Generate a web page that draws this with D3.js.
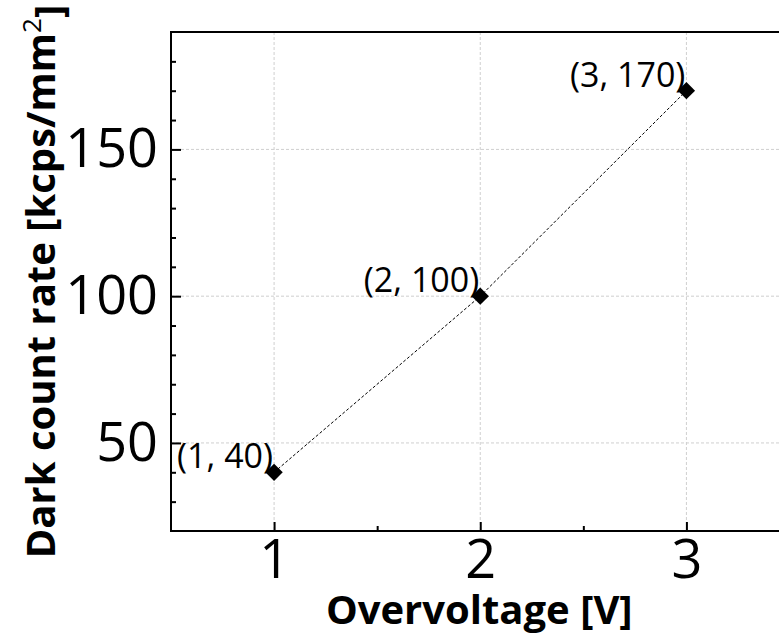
<!DOCTYPE html>
<html>
<head>
<meta charset="utf-8">
<script src="https://cdn.jsdelivr.net/npm/d3@7"></script>
<style>
  body { margin: 0; background: #fff; }
  svg { display: block; }
</style>
</head>
<body>
<svg></svg>
<script>
const WIDTH = 779;
const HEIGHT = 637;

// data
const overvoltage = [1, 2, 3];
const darkCount = [40, 100, 170];
const xTicks = [1, 2, 3];
const xMinor = [1.5, 2.5];
const yTicks = [50, 100, 150];
const yMinor = [30, 40, 60, 70, 80, 90, 110, 120, 130, 140, 160, 170, 180];

const LEFT = 171, RIGHT = 789.5, TOP = 32, BOTTOM = 531;

let svg = d3.select("svg")
    .attr("width", WIDTH)
    .attr("height", HEIGHT)
    .style("font-family", "'Open Sans', 'Noto Sans', sans-serif");

let x = d3.scaleLinear().domain([0.5, 3.5]).range([LEFT, RIGHT]);
let y = d3.scaleLinear().domain([20, 190]).range([BOTTOM, TOP]);

// grid
let grid = svg.append("g")
    .style("stroke", "#cfcfcf")
    .style("stroke-width", 1)
    .style("stroke-dasharray", "3,2");

grid.selectAll(".gx").data(xTicks).enter().append("line")
    .attr("x1", d => x(d)).attr("x2", d => x(d))
    .attr("y1", TOP).attr("y2", BOTTOM);

grid.selectAll(".gy").data(yTicks).enter().append("line")
    .attr("x1", LEFT).attr("x2", RIGHT)
    .attr("y1", d => y(d)).attr("y2", d => y(d));

// axes
let xAxis = svg.append("g")
    .attr("transform", `translate(0, ${BOTTOM})`)
    .call(d3.axisBottom(x).tickValues(xTicks).tickFormat(d3.format("d"))
        .tickSizeInner(-9).tickSizeOuter(0).tickPadding(9));

let xAxisMinor = svg.append("g")
    .attr("transform", `translate(0, ${BOTTOM})`)
    .call(d3.axisBottom(x).tickValues(xMinor).tickFormat("")
        .tickSizeInner(-5).tickSizeOuter(0));

let yAxis = svg.append("g")
    .attr("transform", `translate(${LEFT}, 0)`)
    .call(d3.axisLeft(y).tickValues(yTicks).tickFormat(d3.format("d"))
        .tickSizeInner(-10).tickSizeOuter(0).tickPadding(13));

let yAxisMinor = svg.append("g")
    .attr("transform", `translate(${LEFT}, 0)`)
    .call(d3.axisLeft(y).tickValues(yMinor).tickFormat("")
        .tickSizeInner(-5).tickSizeOuter(0));

svg.selectAll(".domain").remove();
svg.selectAll(".tick line").style("stroke", "#000").style("stroke-width", 2);
svg.selectAll(".tick text")
    .style("font-family", "'Open Sans', sans-serif")
    .style("font-size", "54px")
    .style("fill", "#000");

// frame
svg.append("rect")
    .attr("x", LEFT).attr("y", TOP)
    .attr("width", RIGHT - LEFT).attr("height", BOTTOM - TOP)
    .style("fill", "none")
    .style("stroke", "#000")
    .style("stroke-width", 2);

// series
let points = overvoltage.map((v, i) => ({ x: v, y: darkCount[i] }));

let line = d3.line()
    .x(d => x(d.x))
    .y(d => y(d.y));

svg.append("path")
    .attr("d", line(points))
    .style("fill", "none")
    .style("stroke", "#000")
    .style("stroke-width", 1)
    .style("stroke-dasharray", "3,2");

let diamond = d3.symbol().type(d3.symbolSquare).size(150);

svg.selectAll(".pt").data(points).enter().append("path")
    .attr("d", diamond())
    .attr("transform", d => `translate(${x(d.x)}, ${y(d.y)}) rotate(45)`)
    .style("fill", "#000");

svg.selectAll(".lbl").data(points).enter().append("text")
    .attr("x", d => x(d.x) - 1)
    .attr("y", d => y(d.y) - 4)
    .attr("text-anchor", "end")
    .style("font-size", "34px")
    .text(d => `(${d.x}, ${d.y})`);

// titles
svg.append("text")
    .attr("x", (LEFT + RIGHT) / 2 - 1)
    .attr("y", 624)
    .attr("text-anchor", "middle")
    .style("font-weight", "bold")
    .style("font-size", "40px")
    .text("Overvoltage [V]");

let yTitle = svg.append("text")
    .attr("transform", `translate(55, ${(TOP + BOTTOM) / 2}) rotate(-90)`)
    .attr("text-anchor", "middle")
    .style("font-weight", "bold")
    .style("font-size", "40px");

yTitle.append("tspan").text("Dark count rate [kcps/mm");
yTitle.append("tspan").attr("dy", "-0.55em").style("font-size", "26px").style("font-weight", "normal").text("2");
yTitle.append("tspan").attr("dy", "0.55em").text("]");
</script>
</body>
</html>
